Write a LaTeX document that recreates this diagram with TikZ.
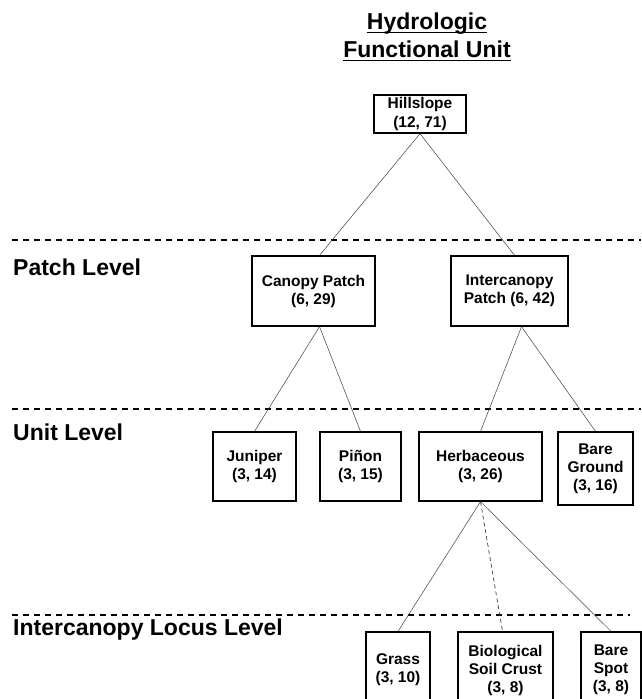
\documentclass[tikz,border=0pt]{standalone}
\usepackage{fontspec}
\setmainfont{Liberation Sans}
\usetikzlibrary{arrows.meta}

\begin{document}
\begin{tikzpicture}[x=1pt,y=-1pt,
    sz/.style 2 args={minimum width=#1pt,minimum height=#2pt}]
\clip (0,0) rectangle (642,699);
\fill[white] (0,0) rectangle (642,699);

% title and level names
\begin{scope}[every node/.style={inner sep=0,font=\fontsize{23}{27}\selectfont\bfseries}]
    \node[anchor=base] (T1) at (427,29) {Hydrologic};
    \node[anchor=base] (T2) at (427,57) {Functional Unit};
    \node[anchor=base west] (L1) at (13,275) {Patch Level};
    \node[anchor=base west] (L2) at (13,440) {Unit Level};
    \node[anchor=base west] (L3) at (13,635) {Intercanopy Locus Level};
\end{scope}
\draw[line width=1.5pt] ([yshift=-3.5pt]T1.base west) -- ([yshift=-3.5pt]T1.base east);
\draw[line width=1.5pt] ([yshift=-3.5pt]T2.base west) -- ([yshift=-3.5pt]T2.base east);

\begin{scope}[line width=1.3pt,dash pattern=on 6pt off 5pt]
    \draw (12,240) -- (641,240);
    \draw (12,409) -- (641,409);
    \draw (12,615) -- (630,615);
\end{scope}

\begin{scope}[every node/.style={draw,line width=1.3pt,fill=white,inner sep=0,align=center,
              font=\fontsize{15.5}{18}\selectfont\bfseries}]
    \node[sz={92}{38},font=\fontsize{15.5}{19}\selectfont\bfseries] (HS) at (420,114) {Hillslope\\(12, 71)};
    \node[sz={123}{70}] (CP) at (313.5,291) {Canopy Patch\\(6, 29)};
    \node[sz={117}{70}] (IP) at (509.5,291) {Intercanopy\\Patch (6, 42)};
    \node[sz={83}{69}] (JU) at (254.5,466.5) {Juniper\\(3, 14)};
    \node[sz={81}{69}] (PI) at (360.5,466.5) {Piñon\\(3, 15)};
    \node[sz={123}{69}] (HB) at (480.5,466.5) {Herbaceous\\(3, 26)};
    \node[sz={75}{73}] (BG) at (595.5,468.5) {Bare\\Ground\\(3, 16)};
    \node[sz={64}{76}] (GR) at (398,670) {Grass\\(3, 10)};
    \node[sz={95}{76}] (BC) at (505.5,670) {Biological\\Soil Crust\\(3, 8)};
    \node[sz={60}{76}] (BS) at (611,670) {Bare\\Spot\\(3, 8)};
\end{scope}

\begin{scope}[every edge/.style={draw=black!75,line width=0.5pt}]
    \path [-] (HS.south) edge ([xshift=6pt]CP.north);
    \path [-] (HS.south) edge ([xshift=5pt]IP.north);
    \path [-] ([xshift=6pt]CP.south) edge (JU.north);
    \path [-] ([xshift=6pt]CP.south) edge (PI.north);
    \path [-] ([xshift=12pt]IP.south) edge (HB.north);
    \path [-] ([xshift=12pt]IP.south) edge (BG.north);
    \path [-] (HB.south) edge (GR.north);
    \path [-] (HB.south) edge[dash pattern=on 4pt off 3pt,line width=0.7pt] ([xshift=-3pt]BC.north);
    \path [-] (HB.south) edge (BS.north);
\end{scope}
\end{tikzpicture}
\end{document}
